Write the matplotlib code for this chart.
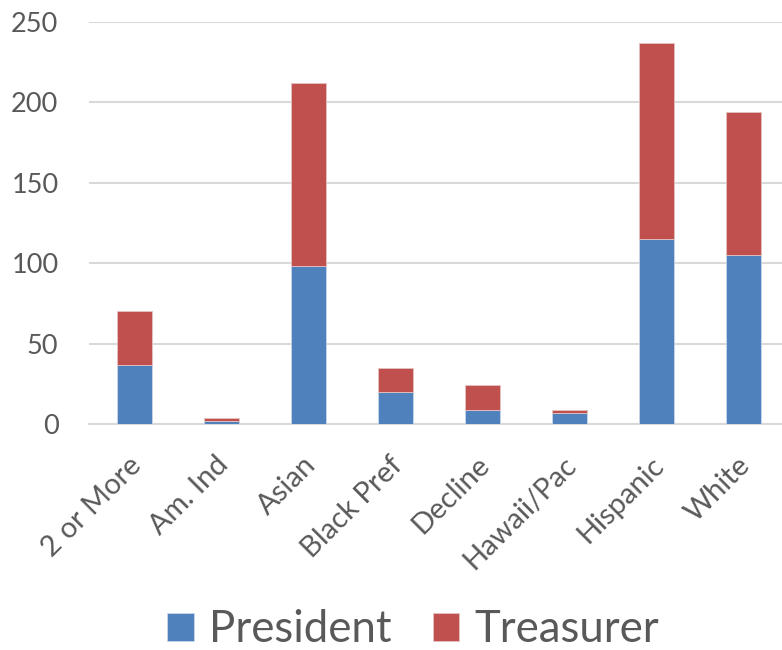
import matplotlib
matplotlib.use("Agg")
import matplotlib.pyplot as plt
import matplotlib.transforms as mtransforms
import numpy as np

categories = ["2 or More", "Am. Ind", "Asian", "Black Pref", "Decline",
              "Hawaii/Pac", "Hispanic", "White"]
president = [37, 2, 98, 20, 9, 7, 115, 105]
treasurer = [33, 2, 114, 15, 15, 2, 122, 89]
yticks = [0, 50, 100, 150, 200, 250]

plt.rcParams['font.family'] = ['Lato', 'DejaVu Sans']
txt = '#595959'
fig = plt.figure(figsize=(7.82, 6.5), dpi=100)
ax = fig.add_axes([89/782, 1-424/650, 696/782, 402/650])

x = np.arange(len(categories))
ax.bar(x, president, width=0.4, color='#4F81BD', edgecolor='#c9d6ea', linewidth=0.6,
       label='President', zorder=3)
ax.bar(x, treasurer, bottom=president, width=0.4, color='#C0504D', edgecolor='#e6c3c2',
       linewidth=0.6, label='Treasurer', zorder=3)

ax.set_xlim(-0.52, 7.48)
ax.set_ylim(0, 250)
ax.set_yticks(yticks)
ax.set_yticklabels([str(v) for v in yticks])
ax.yaxis.grid(True, color='#d9d9d9', linewidth=1.5, zorder=0)
ax.set_axisbelow(True)
for s in ['top', 'right', 'left']:
    ax.spines[s].set_visible(False)
ax.spines['bottom'].set_color('#d9d9d9')
ax.spines['bottom'].set_linewidth(1.5)
ax.tick_params(axis='y', length=0, pad=22, labelsize=19.5, labelcolor=txt)
ax.tick_params(axis='x', length=0, pad=20, labelsize=21, labelcolor=txt)
ax.set_xticks(x)
ax.set_xticklabels(categories, rotation=45, ha='right', va='top', rotation_mode='anchor')
offset = mtransforms.ScaledTranslation(-6/100, 0, fig.dpi_scale_trans)
for lab in ax.get_xticklabels():
    lab.set_transform(lab.get_transform() + offset)

leg = fig.legend(loc='center', bbox_to_anchor=(413/782, 1-630/650), ncol=2, frameon=False,
                 fontsize=31.5, handlelength=0.6, handleheight=0.6, handletextpad=0.34,
                 columnspacing=0.95, borderaxespad=0)
for t in leg.get_texts():
    t.set_color(txt)

fig.savefig('out.png', dpi=100)
